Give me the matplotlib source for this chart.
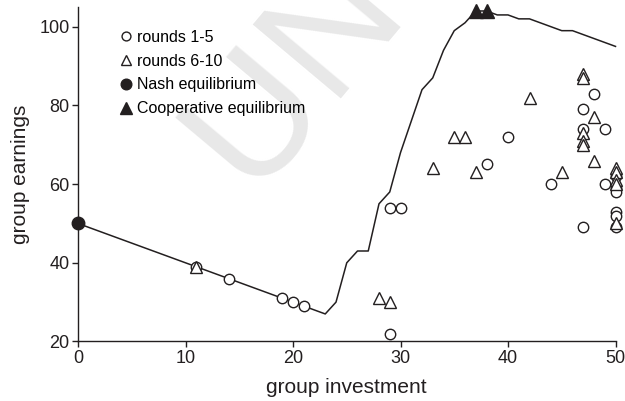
import matplotlib
matplotlib.use("Agg")
import matplotlib.pyplot as plt

plt.rcParams['font.family'] = ['Liberation Sans', 'DejaVu Sans']

# equilibrium earnings curve
curve_x = list(range(0, 51))
curve_y = [50, 49, 48, 47, 46, 45, 44, 43, 42, 41, 40, 39, 38, 37, 36, 35,
           34, 33, 32, 31, 30, 29, 28, 27, 30, 40, 43, 43, 55, 58, 68, 76,
           84, 87, 94, 99, 101, 104, 104, 103, 103, 102, 102, 101, 100, 99,
           99, 98, 97, 96, 95]

# rounds 1-5 (open circles)
r15_x = [11, 14, 19, 20, 21, 29, 30, 29, 38, 40, 44, 47, 47, 47, 48, 49, 49,
         50, 50, 50, 50, 50, 50]
r15_y = [39, 36, 31, 30, 29, 54, 54, 22, 65, 72, 60, 79, 74, 49, 83, 74, 60,
         62, 59, 58, 53, 52, 49]

# rounds 6-10 (open triangles)
r610_x = [11, 28, 29, 33, 35, 36, 37, 42, 45, 47, 47, 47, 47, 47, 48, 48,
          50, 50, 50, 50, 50]
r610_y = [39, 31, 30, 64, 72, 72, 63, 82, 63, 88, 87, 73, 71, 70, 77, 66,
          64, 63, 61, 60, 50]

nash_x = [0]
nash_y = [50]
coop_x = [37, 38]
coop_y = [104, 104]

ink = '#231f20'

fig = plt.figure(figsize=(6.25, 4.01), dpi=100)
ax = fig.add_axes([0.1248, 0.1484, 0.86, 0.834])

# watermark, behind everything
ax.text(0.26, 0.53, 'UNCORRECTED PROOF', transform=fig.transFigure,
        fontsize=120, color='#e8e8e8', rotation=50, ha='left',
        va='baseline', zorder=0, clip_on=False)

ax.plot(curve_x, curve_y, color=ink, lw=1.1, zorder=2, clip_on=False)
ax.plot(r15_x, r15_y, 'o', ms=7.5, mfc='white', mec=ink, mew=1.0,
        ls='none', label='rounds 1-5', zorder=3, clip_on=False)
ax.plot(r610_x, r610_y, '^', ms=8.5, mfc='white', mec=ink, mew=1.0,
        ls='none', label='rounds 6-10', zorder=3, clip_on=False)
ax.plot(nash_x, nash_y, 'o', ms=9, mfc=ink, mec=ink,
        ls='none', label='Nash equilibrium', zorder=4, clip_on=False)
ax.plot(coop_x, coop_y, '^', ms=10, mfc=ink, mec=ink,
        ls='none', label='Cooperative equilibrium', zorder=4, clip_on=False)

ax.set_xlim(0, 50)
ax.set_ylim(20, 105)
ax.set_xticks([0, 10, 20, 30, 40, 50])
ax.set_yticks([20, 40, 60, 80, 100])
ax.spines['top'].set_visible(False)
ax.spines['right'].set_visible(False)
for s in ['left', 'bottom']:
    ax.spines[s].set_color(ink)
    ax.spines[s].set_linewidth(1.0)
ax.tick_params(direction='out', length=4, width=1.0, color=ink,
               labelcolor=ink, labelsize=13, pad=2)

ax.set_xlabel('group investment', fontsize=15, color=ink, labelpad=8)
ax.set_ylabel('group earnings', fontsize=15, color=ink, labelpad=7)

leg = ax.legend(loc='upper left', bbox_to_anchor=(0.045, 0.975), frameon=False,
                fontsize=11.5, handletextpad=0.1, labelspacing=0.55,
                handlelength=1.2, markerscale=0.85)
leg.set_zorder(5)

fig.savefig('out.png', dpi=100)
